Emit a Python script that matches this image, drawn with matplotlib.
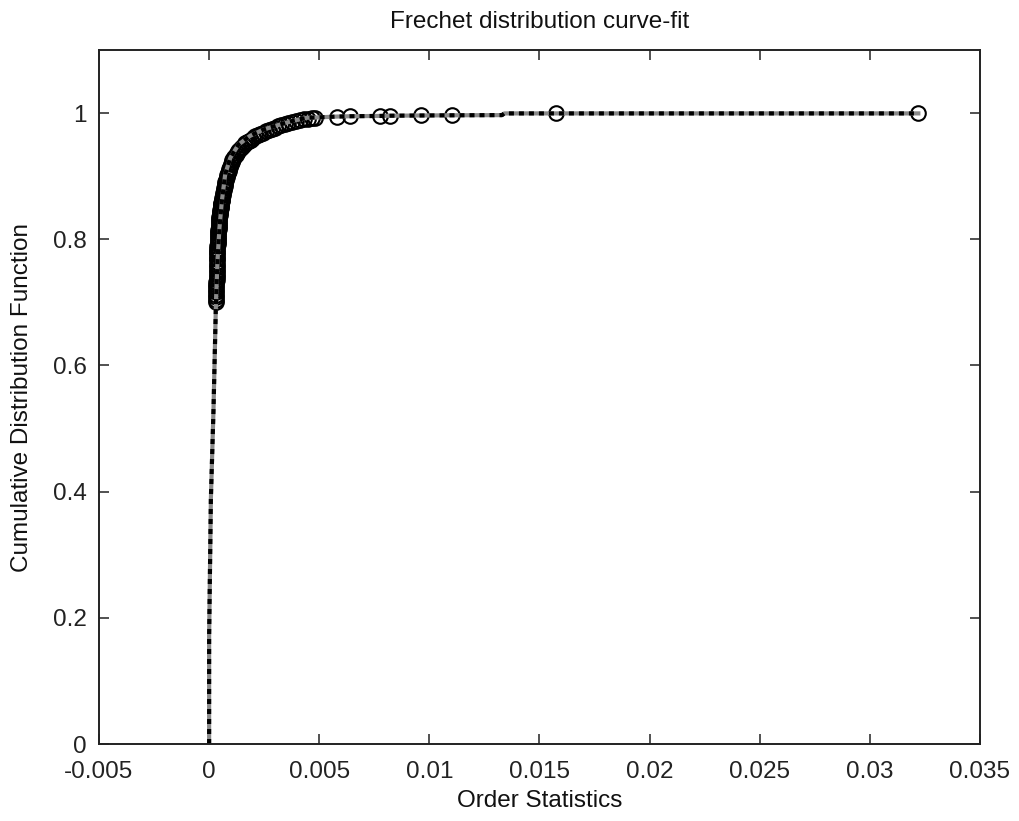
import numpy as np
import matplotlib
matplotlib.use("Agg")
import matplotlib.pyplot as plt

# order statistics (observed) and their empirical CDF values
x_obs = [0.00031, 0.00031, 0.00031, 0.00032, 0.00032, 0.00032, 0.00033, 0.00033, 0.00033, 0.00034,
         0.00034, 0.00034, 0.00035, 0.00035, 0.00035, 0.00036, 0.00036, 0.00036, 0.00037, 0.00037,
         0.00037, 0.00038, 0.00038, 0.00038, 0.00039, 0.00039, 0.00040, 0.00040, 0.00041, 0.00041,
         0.00042, 0.00042, 0.00043, 0.00043, 0.00044, 0.00045, 0.00045, 0.00046, 0.00047, 0.00048,
         0.00049, 0.00050, 0.00051, 0.00052, 0.00053, 0.00054, 0.00055, 0.00056, 0.00057, 0.00058,
         0.00060, 0.00062, 0.00064, 0.00066, 0.00068, 0.00070, 0.00072, 0.00074, 0.00076, 0.00079,
         0.00082, 0.00085, 0.00088, 0.00091, 0.00094, 0.00098, 0.00102, 0.00106, 0.00110, 0.00115,
         0.00120, 0.00125, 0.00131, 0.00137, 0.00143, 0.00150, 0.00157, 0.00165, 0.00173, 0.00181,
         0.00190, 0.00200, 0.00210, 0.00221, 0.00232, 0.00244, 0.00257, 0.00270, 0.00284, 0.00298,
         0.00313, 0.00328, 0.00344, 0.00360, 0.00377, 0.00394, 0.00412, 0.00430, 0.00448, 0.00466,
         0.00482,
         0.00580, 0.00638, 0.00777, 0.00823, 0.00962, 0.01103, 0.01577, 0.03217]
y_obs = [0.700, 0.704, 0.708, 0.712, 0.716, 0.720, 0.724, 0.728, 0.732, 0.736,
         0.740, 0.744, 0.748, 0.752, 0.756, 0.760, 0.764, 0.768, 0.771, 0.775,
         0.778, 0.782, 0.785, 0.789, 0.792, 0.796, 0.799, 0.802, 0.805, 0.808,
         0.811, 0.814, 0.817, 0.820, 0.823, 0.826, 0.829, 0.832, 0.835, 0.838,
         0.841, 0.844, 0.846, 0.849, 0.851, 0.854, 0.856, 0.858, 0.860, 0.862,
         0.866, 0.870, 0.874, 0.878, 0.882, 0.885, 0.888, 0.891, 0.894, 0.898,
         0.902, 0.905, 0.909, 0.912, 0.915, 0.919, 0.922, 0.925, 0.928, 0.931,
         0.934, 0.937, 0.940, 0.942, 0.945, 0.947, 0.950, 0.952, 0.954, 0.956,
         0.958, 0.961, 0.963, 0.965, 0.967, 0.969, 0.971, 0.973, 0.975, 0.977,
         0.979, 0.981, 0.983, 0.984, 0.986, 0.987, 0.989, 0.990, 0.991, 0.992,
         0.993,
         0.9945, 0.9950, 0.9955, 0.9958, 0.9962, 0.9965, 0.9995, 0.9995]

# fitted Frechet CDF
x_fit = [0.0, 0.0, 0.00008, 0.00020, 0.00031, 0.00038, 0.00047, 0.00058, 0.00073, 0.00096,
         0.00133, 0.00186, 0.00247, 0.00323, 0.00383, 0.00444, 0.00482, 0.0058, 0.0064,
         0.0078, 0.0082, 0.0096, 0.0110, 0.0133, 0.0134, 0.0322]
y_fit = [0.0, 0.17, 0.389, 0.532, 0.700, 0.766, 0.8185, 0.861, 0.903, 0.929,
         0.950, 0.964, 0.974, 0.982, 0.988, 0.9926, 0.993, 0.9945, 0.995,
         0.9955, 0.9958, 0.9962, 0.9965, 0.9968, 0.9995, 0.9995]

xticks = [-0.005, 0, 0.005, 0.01, 0.015, 0.02, 0.025, 0.03, 0.035]
xticklabels = ["-0.005", "0", "0.005", "0.01", "0.015", "0.02", "0.025", "0.03", "0.035"]
yticks = [0, 0.2, 0.4, 0.6, 0.8, 1]
yticklabels = ["0", "0.2", "0.4", "0.6", "0.8", "1"]

plt.rcParams["font.family"] = ["Liberation Sans", "DejaVu Sans"]
fs = 17.5

fig = plt.figure(figsize=(10.2, 8.21), dpi=100)
ax = fig.add_axes([99/1020, 77/821, 881/1020, 694/821])

ax.plot(x_obs, y_obs, "o", ms=10.5, mfc="none", mec="black", mew=1.5)
ax.plot(x_fit, y_fit, "-", color="#8a8a8a", lw=3)
ax.plot(x_fit, y_fit, color="black", lw=3, linestyle=(0, (1.2, 1.2)))

ax.set_xlim(-0.005, 0.035)
ax.set_ylim(0, 1.1)
ax.set_xticks(xticks)
ax.set_xticklabels(xticklabels)
ax.set_yticks(yticks)
ax.set_yticklabels(yticklabels)

ax.tick_params(direction="in", length=7.5, width=1.1, top=True, right=True,
               labelsize=fs, colors="#222222")
ax.tick_params(axis="y", pad=9)
ax.tick_params(axis="x", pad=12)
for s in ax.spines.values():
    s.set_linewidth(1.4)
    s.set_color("#222222")

ax.set_title("Frechet distribution curve-fit", fontsize=fs, pad=16, color="#111111")
ax.set_xlabel("Order Statistics", fontsize=fs, labelpad=5, color="#111111")
ax.set_ylabel("Cumulative Distribution Function", fontsize=fs, labelpad=14, color="#111111")

fig.savefig("out.png", dpi=100)
